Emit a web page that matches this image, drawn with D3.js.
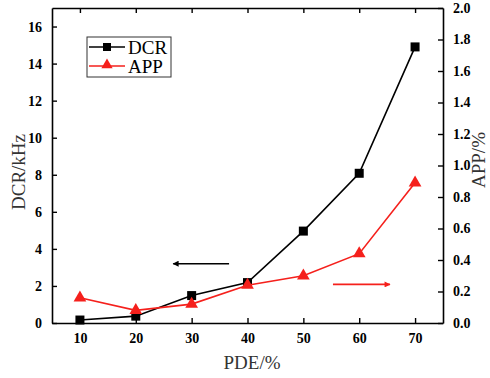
<!DOCTYPE html>
<html>
<head>
<meta charset="utf-8">
<script src="https://cdn.jsdelivr.net/npm/d3@7"></script>
<style>
body { margin: 0; background: #fff; }
text { font-family: "Liberation Serif", "Times New Roman", serif; }
</style>
</head>
<body>
<div id="chart"></div>
<script>
var pde = [10, 20, 30, 40, 50, 60, 70];
var dcr = [0.16, 0.37, 1.48, 2.18, 4.96, 8.08, 14.9];
var app = [0.16, 0.08, 0.12, 0.24, 0.30, 0.44, 0.89];
var xTicks = [10, 20, 30, 40, 50, 60, 70];
var yLeftTicks = [0, 2, 4, 6, 8, 10, 12, 14, 16];
var yRightTicks = [0, 0.2, 0.4, 0.6, 0.8, 1.0, 1.2, 1.4, 1.6, 1.8, 2.0];

var svgWidth = 490, svgHeight = 378;
var margin = { top: 8, right: 47, bottom: 55, left: 52 };
var width = svgWidth - margin.left - margin.right;
var height = svgHeight - margin.top - margin.bottom;

var svg = d3.select("#chart").append("svg")
  .attr("width", svgWidth)
  .attr("height", svgHeight);

var chartGroup = svg.append("g")
  .attr("transform", `translate(${margin.left}, ${margin.top})`);

var x = d3.scaleLinear().domain([5, 75]).range([0, width]);
var yL = d3.scaleLinear().domain([0, 17]).range([height, 0]);
var yR = d3.scaleLinear().domain([0, 2]).range([height, 0]);

// axes, ticks point inward
var bottomAxis = d3.axisBottom(x).tickValues(xTicks).tickSize(-5).tickPadding(10).tickSizeOuter(0);
var topAxis = d3.axisTop(x).tickValues(xTicks).tickSize(-5).tickFormat("").tickSizeOuter(0);
var leftAxis = d3.axisLeft(yL).tickValues(yLeftTicks).tickSize(-5).tickPadding(10).tickSizeOuter(0);
var rightAxis = d3.axisRight(yR).tickValues(yRightTicks).tickSize(-5).tickPadding(10)
  .tickFormat(d3.format(".1f")).tickSizeOuter(0);

function styleAxis(g) {
  g.attr("font-family", "Liberation Serif");
  g.select(".domain").attr("stroke", "#000").attr("stroke-width", 1.6);
  g.selectAll(".tick line").attr("stroke", "#000").attr("stroke-width", 1.4);
  g.selectAll(".tick text")
    .attr("fill", "#000")
    .style("font-family", "'Liberation Serif', serif")
    .style("font-weight", "bold")
    .style("font-size", "14px");
}

chartGroup.append("g").attr("transform", `translate(0, ${height})`).call(bottomAxis).call(styleAxis);
chartGroup.append("g").call(topAxis).call(styleAxis);
chartGroup.append("g").call(leftAxis).call(styleAxis);
chartGroup.append("g").attr("transform", `translate(${width}, 0)`).call(rightAxis).call(styleAxis);

// DCR line
var lineL = d3.line().x((d, i) => x(pde[i])).y(d => yL(d));
chartGroup.append("path")
  .datum(dcr)
  .attr("d", lineL)
  .attr("fill", "none")
  .attr("stroke", "#000")
  .attr("stroke-width", 1.6);

chartGroup.selectAll(".sq")
  .data(dcr)
  .enter()
  .append("rect")
  .attr("x", (d, i) => x(pde[i]) - 4.5)
  .attr("y", d => yL(d) - 4.5)
  .attr("width", 9)
  .attr("height", 9)
  .attr("fill", "#000");

// APP line
var lineR = d3.line().x((d, i) => x(pde[i])).y(d => yR(d));
chartGroup.append("path")
  .datum(app)
  .attr("d", lineR)
  .attr("fill", "none")
  .attr("stroke", "#f5201c")
  .attr("stroke-width", 1.6);

var tri = d3.symbol().type(d3.symbolTriangle).size(70);
chartGroup.selectAll(".tri")
  .data(app)
  .enter()
  .append("path")
  .attr("d", tri)
  .attr("transform", (d, i) => `translate(${x(pde[i])}, ${yR(d)})`)
  .attr("fill", "#f5201c");

// arrows
var defs = svg.append("defs");
function marker(id, color) {
  defs.append("marker")
    .attr("id", id)
    .attr("viewBox", "0 0 10 10")
    .attr("refX", 9).attr("refY", 5)
    .attr("markerWidth", 10).attr("markerHeight", 6)
    .attr("markerUnits", "userSpaceOnUse")
    .attr("orient", "auto")
    .append("path")
    .attr("d", "M0,0 L10,5 L0,10 Z")
    .attr("fill", color);
}
marker("arrBlack", "#000");
marker("arrRed", "#f5201c");

chartGroup.append("line")
  .attr("x1", x(36.7)).attr("x2", x(26.7))
  .attr("y1", yL(3.2)).attr("y2", yL(3.2))
  .attr("stroke", "#000").attr("stroke-width", 1.6)
  .attr("marker-end", "url(#arrBlack)");

chartGroup.append("line")
  .attr("x1", x(55.3)).attr("x2", x(65.5))
  .attr("y1", yR(0.245)).attr("y2", yR(0.245))
  .attr("stroke", "#f5201c").attr("stroke-width", 1.6)
  .attr("marker-end", "url(#arrRed)");

// legend
var legend = svg.append("g").attr("transform", "translate(87, 37)");
legend.append("rect")
  .attr("width", 84).attr("height", 40)
  .attr("fill", "#fff").attr("stroke", "#333").attr("stroke-width", 1);
legend.append("line").attr("x1", 2).attr("x2", 38).attr("y1", 10).attr("y2", 10)
  .attr("stroke", "#000").attr("stroke-width", 1.6);
legend.append("rect").attr("x", 16).attr("y", 6).attr("width", 8).attr("height", 8).attr("fill", "#000");
legend.append("line").attr("x1", 2).attr("x2", 38).attr("y1", 29).attr("y2", 29)
  .attr("stroke", "#f5201c").attr("stroke-width", 1.4);
legend.append("path").attr("d", d3.symbol().type(d3.symbolTriangle).size(55))
  .attr("transform", "translate(20, 28)").attr("fill", "#f5201c");
legend.append("text").attr("x", 41).attr("y", 17).style("font-size", "19px").text("DCR");
legend.append("text").attr("x", 41).attr("y", 36).style("font-size", "19px").text("APP");

// axis titles
svg.append("text")
  .attr("transform", "translate(25, 172) rotate(-90)")
  .attr("text-anchor", "middle")
  .style("font-size", "19px")
  .attr("fill", "#333")
  .text("DCR/kHz");

svg.append("text")
  .attr("transform", "translate(485, 160) rotate(-90)")
  .attr("text-anchor", "middle")
  .style("font-size", "19px")
  .attr("fill", "#333")
  .text("APP/%");

svg.append("text")
  .attr("x", 252).attr("y", 369)
  .attr("text-anchor", "middle")
  .style("font-size", "19px")
  .attr("fill", "#333")
  .text("PDE/%");
</script>
</body>
</html>
